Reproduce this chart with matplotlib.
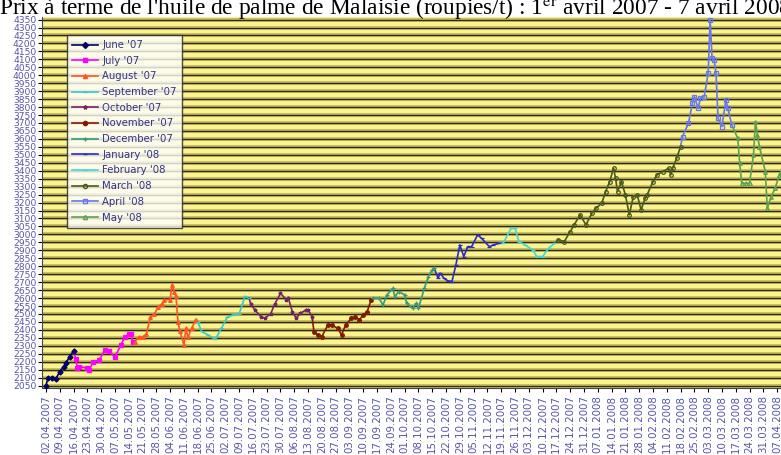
import numpy as np
import pandas as pd
import matplotlib.pyplot as plt

plt.rcParams['mathtext.fontset'] = 'stix'

start = np.datetime64('2007-04-02')

# jours depuis le 02.04.2007 / prix en roupies par tonne, un segment par couleur
jun07_d = [0, 1, 3, 5, 7, 9, 10, 12, 14]
jun07_p = [2050, 2096, 2100, 2092, 2138, 2169, 2190, 2232, 2268]
jul07_d = [15, 16, 17, 21, 22, 24, 27, 30, 32, 35, 38, 40, 42, 43, 44]
jul07_p = [2220, 2160, 2170, 2160, 2150, 2200, 2210, 2275, 2265, 2230, 2305, 2355, 2375, 2375, 2325]
aug07_d = [45, 47, 49, 51, 53, 55, 57, 59, 60, 63, 64, 65, 66, 67, 68, 70, 71, 72, 74, 76]
aug07_p = [2325, 2355, 2355, 2375, 2480, 2500, 2545, 2565, 2590, 2590, 2685, 2640, 2610, 2450,
           2390, 2305, 2410, 2355, 2410, 2465]
sep07_d = [77, 79, 82, 86, 89, 92, 95, 98, 101, 103]
sep07_p = [2450, 2390, 2370, 2340, 2410, 2480, 2495, 2500, 2610, 2600]
oct07_d = [104, 106, 109, 111, 114, 116, 119, 122, 123, 125, 127, 129, 132, 133, 135]
oct07_p = [2560, 2526, 2484, 2473, 2500, 2560, 2630, 2589, 2599, 2515, 2473, 2504, 2526, 2526, 2484]
nov07_d = [136, 138, 140, 143, 145, 148, 150, 152, 155, 157, 159, 161, 163, 165]
nov07_p = [2389, 2369, 2358, 2431, 2431, 2410, 2369, 2431, 2473, 2484, 2463, 2494, 2515, 2589]
dec07_d = [166, 169, 171, 173, 176, 177, 179, 182, 183, 186, 188, 189, 192, 194, 196, 197]
dec07_p = [2599, 2599, 2557, 2620, 2661, 2609, 2641, 2620, 2567, 2536, 2567, 2536, 2661, 2735,
           2777, 2787]
jan08_d = [199, 200, 202, 204, 206, 208, 210, 212, 214, 216, 219, 221, 225, 227, 230]
jan08_p = [2724, 2756, 2724, 2708, 2704, 2808, 2934, 2861, 2923, 2923, 2997, 2976, 2923, 2934, 2944]
feb08_d = [232, 236, 238, 240, 243, 247, 249, 252, 255, 258]
feb08_p = [2944, 3038, 3038, 2955, 2934, 2903, 2861, 2861, 2913, 2944]
mar08_d = [260, 263, 266, 268, 271, 274, 277, 279, 282, 284, 286, 288, 289, 290, 292, 294, 296,
           298, 300, 302, 304, 305, 308, 310, 313, 316, 317, 318, 320, 322]
mar08_p = [2966, 2955, 3018, 3060, 3123, 3060, 3133, 3164, 3196, 3269, 3332, 3416, 3353, 3269,
           3332, 3248, 3123, 3238, 3248, 3154, 3227, 3248, 3332, 3374, 3395, 3416, 3374, 3416,
           3478, 3552]
apr08_d = [323, 326, 328, 329, 331, 332, 334, 336, 337, 338, 339, 340, 341, 343, 345, 346, 348]
apr08_p = [3615, 3698, 3824, 3866, 3792, 3855, 3866, 4013, 4348, 4107, 4097, 4013, 3730, 3678,
           3845, 3792, 3688]
may08_d = [351, 352, 353, 355, 357, 359, 360, 361, 362, 365, 366, 368, 370, 372, 373]
may08_p = [3604, 3447, 3321, 3321, 3321, 3500, 3709, 3625, 3552, 3395, 3164, 3238, 3290, 3374, 3395]

labels = ["June '07", "July '07", "August '07", "September '07", "October '07", "November '07",
          "December '07", "January '08", "February '08", "March '08", "April '08", "May '08"]
days = [jun07_d, jul07_d, aug07_d, sep07_d, oct07_d, nov07_d, dec07_d, jan08_d, feb08_d,
        mar08_d, apr08_d, may08_d]
prices = [jun07_p, jul07_p, aug07_p, sep07_p, oct07_p, nov07_p, dec07_p, jan08_p, feb08_p,
          mar08_p, apr08_p, may08_p]

colors = ['#000066', '#ff00ff', '#ff5522', '#33cccc', '#772266', '#801a00', '#339980',
          '#2a2acc', '#40d8d8', '#4a5a1a', '#6677ee', '#5ea050']
markers = ['D', 's', '^', '_', '*', 'o', '+', '_', '_', 'o', 's', '^']
fills = ['full', 'full', 'full', 'full', 'full', 'full', 'full', 'full', 'full', 'none', 'none', 'none']

weeks = pd.date_range('2007-04-02', '2008-04-07', freq='7D')
week_labels = [w.strftime('%d.%m.%Y') for w in weeks]
yticks = np.arange(2050, 4351, 50)

fig = plt.figure(figsize=(7.81, 4.55), dpi=100)
ax = fig.add_axes([42 / 781, 67 / 455, 745 / 781, 371 / 455])
ax.set_facecolor('#faf38f')

for y in yticks:
    ax.axhline(y, color='#bdb35e', lw=2.6, zorder=0.5)
    ax.axhline(y, color='#2e2c0c', lw=0.9, zorder=0.6)

prev_x, prev_y = None, None
for i in range(12):
    x = list(start + np.array(days[i]).astype('timedelta64[D]'))
    y = list(prices[i])
    if prev_x is not None:
        x = [prev_x] + x
        y = [prev_y] + y
    ax.plot(x[1:] if i else x, y[1:] if i else y, linestyle='none', marker=markers[i],
            ms=2.6, mew=0.9, color=colors[i], fillstyle=fills[i], zorder=3)
    ax.plot(x, y, '-', lw=1.2, color=colors[i], zorder=2)
    ax.plot([], [], '-', lw=1.2, color=colors[i], marker=markers[i], ms=3,
            fillstyle=fills[i], label=labels[i])
    prev_x, prev_y = x[-1], y[-1]

ax.set_xlim(start - np.timedelta64(2, 'D'), start + np.timedelta64(376, 'D'))
ax.set_ylim(2035, 4366)
ax.set_yticks(yticks)
ax.set_yticklabels([str(v) for v in yticks], fontsize=6.6, color='#5555aa')
ax.set_xticks(weeks)
ax.set_xticklabels(week_labels, rotation=90, fontsize=7.4, color='#5555aa')
ax.tick_params(axis='y', length=3, width=0.8, pad=1)
ax.tick_params(axis='x', length=3, width=0.8, pad=2)
for s in ['top', 'right']:
    ax.spines[s].set_visible(False)
ax.spines['left'].set_color('#444444')
ax.spines['bottom'].set_color('#444444')

leg = ax.legend(loc='upper left', bbox_to_anchor=(67 / 781, 1 - 35 / 455),
                bbox_transform=fig.transFigure, fontsize=7.3, frameon=True, fancybox=False,
                handlelength=2.6, handletextpad=0.4, labelspacing=0.56, borderpad=0.5,
                borderaxespad=0)
leg.get_frame().set_edgecolor('#222222')
leg.get_frame().set_linewidth(1.0)
for t in leg.get_texts():
    t.set_color('#333388')

fig.text(-0.001, 1 - 14 / 455,
         r"Prix à terme de l'huile de palme de Malaisie (roupies/t) : 1$^{\rm er}$ avril 2007 - 7 avril 2008",
         fontsize=16.8, family='Liberation Serif', va='baseline', ha='left')

fig.savefig('out.png', dpi=100)
